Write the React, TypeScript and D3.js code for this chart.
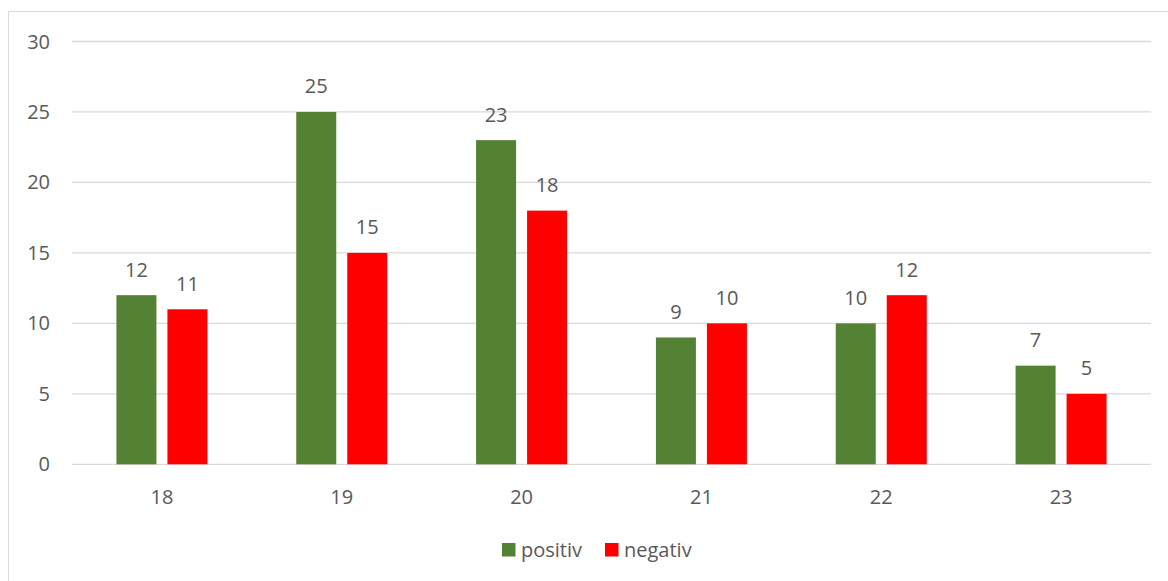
import React from "react";
import * as d3 from "d3";

const categories = ["18", "19", "20", "21", "22", "23"];
const positiv = [12, 25, 23, 9, 10, 7];
const negativ = [11, 15, 18, 10, 12, 5];
const yTicks = [0, 5, 10, 15, 20, 25, 30];
const seriesNames = ["positiv", "negativ"];
const seriesColors = ["#548235", "#FF0000"];

const W = 1168;
const H = 581;
const plot = { left: 72, right: 1151, top: 41.5, bottom: 464.3 };
const FONT = "'Open Sans', Calibri, sans-serif";
const TEXT = "#595959";
const FS = 20;

export default function App() {
  const x = d3.scaleBand<string>().domain(categories).range([plot.left, plot.right]);
  const y = d3.scaleLinear().domain([0, 30]).range([plot.bottom, plot.top]);
  const barW = 40;
  const gap = 11;
  const series = [positiv, negativ];

  return (
    <svg
      width={W}
      height={H}
      style={{ position: "absolute", left: 0, top: 0, background: "#fff" }}
      fontFamily={FONT}
    >
      {/* chart frame */}
      <rect x={8.5} y={11.5} width={1170} height={600} fill="none" stroke="#D9D9D9" strokeWidth={1} />

      {/* gridlines and y tick labels */}
      {yTicks.map((t) => (
        <g key={t}>
          <line x1={plot.left} x2={plot.right} y1={y(t)} y2={y(t)} stroke="#D9D9D9" strokeWidth={1.3} />
          <text x={50} y={y(t) + 7} textAnchor="end" fontSize={FS} fill={TEXT}>
            {t}
          </text>
        </g>
      ))}

      {/* bars with value labels */}
      {categories.map((c, i) => {
        const center = (x(c) as number) + x.bandwidth() / 2;
        return series.map((vals, s) => {
          const bx = s === 0 ? center - gap / 2 - barW : center + gap / 2;
          const v = vals[i];
          return (
            <g key={c + "-" + s}>
              <rect x={bx} y={y(v)} width={barW} height={y(0) - y(v)} fill={seriesColors[s]} />
              <text x={bx + barW / 2} y={y(v) - 18.5} textAnchor="middle" fontSize={FS} fill={TEXT}>
                {v}
              </text>
            </g>
          );
        });
      })}

      {/* x tick labels */}
      {categories.map((c) => (
        <text
          key={c}
          x={(x(c) as number) + x.bandwidth() / 2}
          y={503.5}
          textAnchor="middle"
          fontSize={FS}
          fill={TEXT}
        >
          {c}
        </text>
      ))}

      {/* legend */}
      {seriesNames.map((n, i) => {
        const lx = i === 0 ? 502 : 605;
        return (
          <g key={n}>
            <rect x={lx} y={543} width={13.5} height={13.5} fill={seriesColors[i]} />
            <text x={lx + 19} y={556.5} fontSize={FS} fill={TEXT}>
              {n}
            </text>
          </g>
        );
      })}
    </svg>
  );
}
